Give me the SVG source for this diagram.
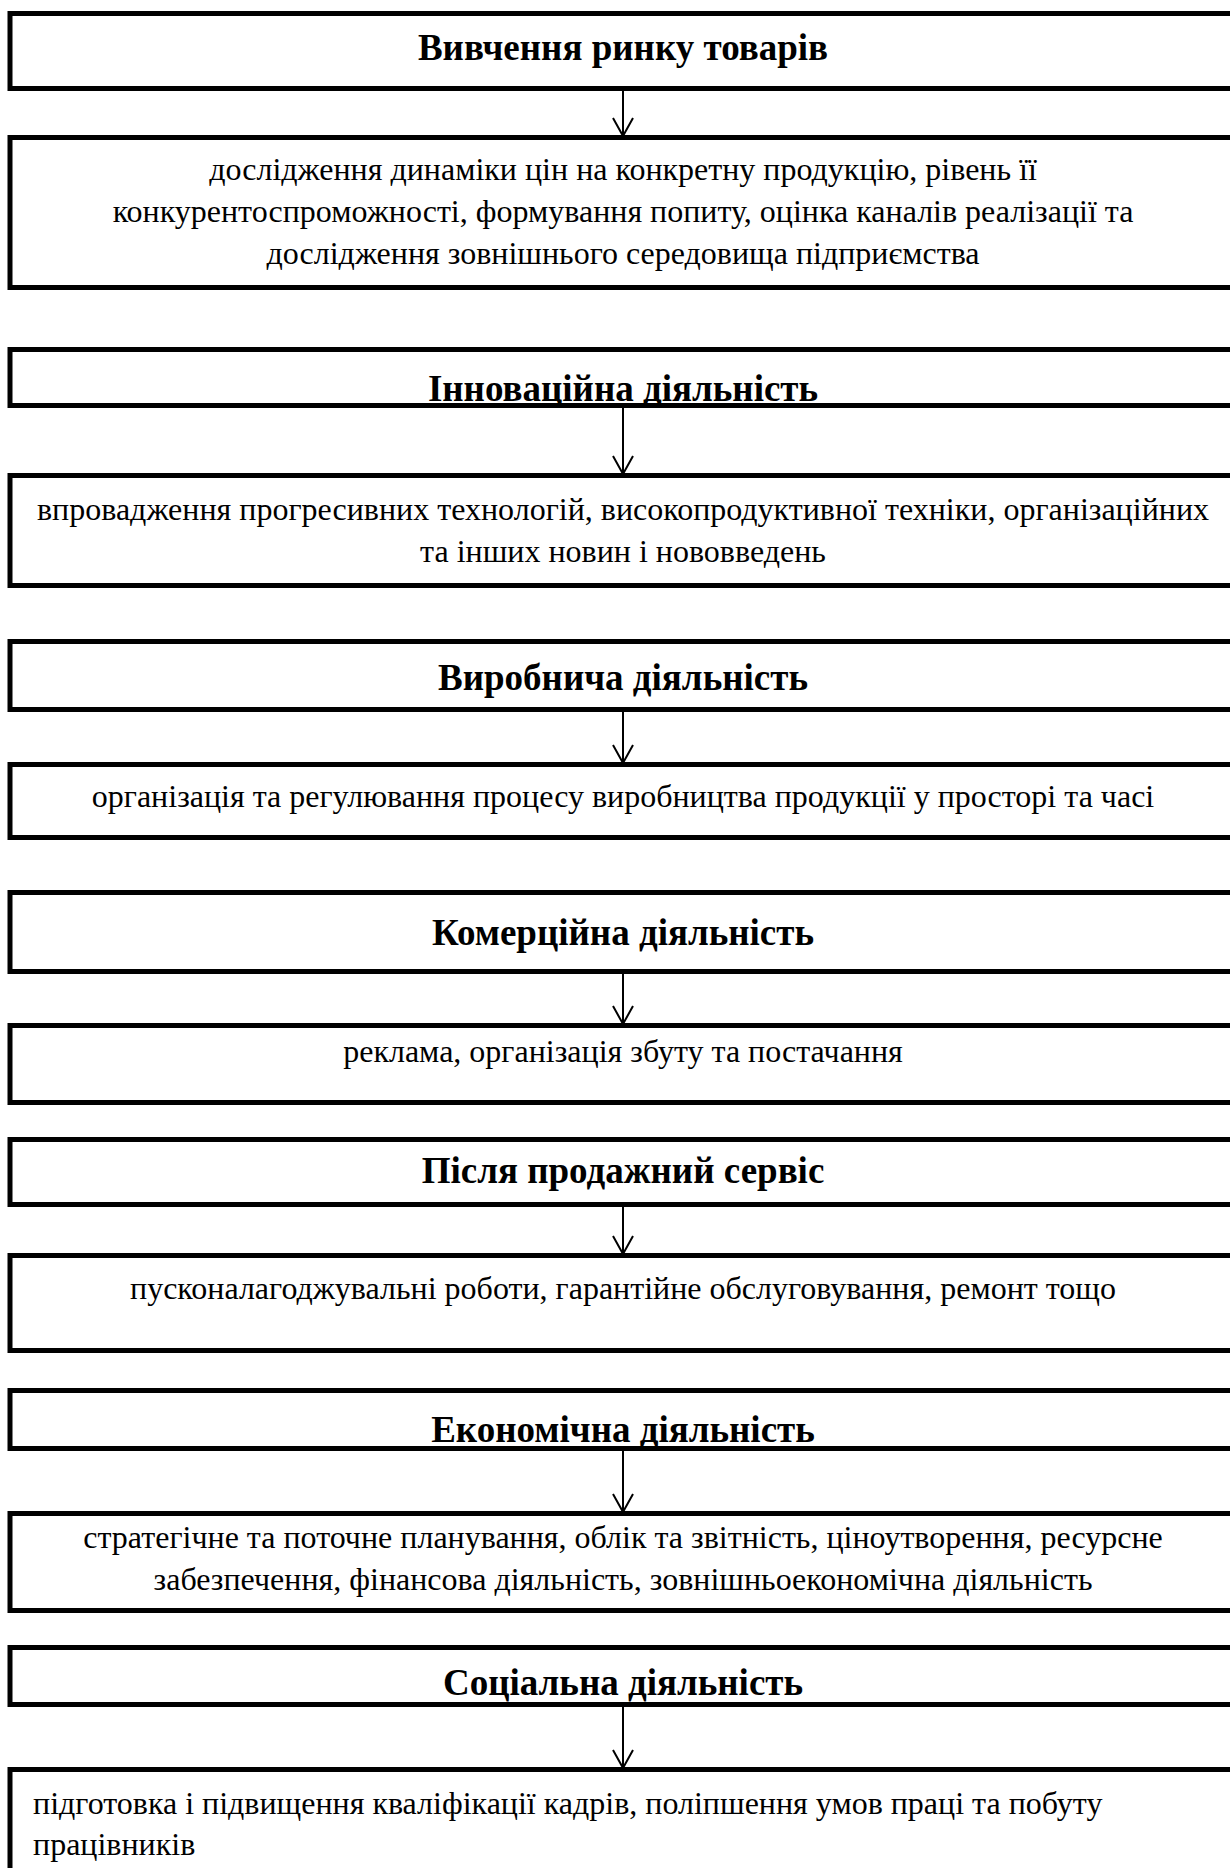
<svg xmlns="http://www.w3.org/2000/svg" width="1230" height="1868" viewBox="0 0 1230 1868">
<style>
.border{fill:none;stroke:#000;stroke-width:5}
.t{font-family:"Liberation Serif","Times New Roman",serif;font-weight:bold;font-size:37px;text-anchor:middle;fill:#000}
.d{font-family:"Liberation Serif","Times New Roman",serif;font-size:32px;text-anchor:middle;fill:#000}
.l{font-family:"Liberation Serif","Times New Roman",serif;font-size:32px;text-anchor:start;fill:#000}
.conn line{stroke:#000;stroke-width:2;marker-end:url(#arr)}
</style>
<defs>
<marker id="arr" markerUnits="userSpaceOnUse" viewBox="0 0 22 22" markerWidth="22" markerHeight="22" refX="20" refY="11" orient="auto">
<path d="M2,1 L20,11 L2,21" fill="none" stroke="#000" stroke-width="2"/>
</marker>
<clipPath id="c2"><rect x="0" y="347" width="1230" height="61"/></clipPath>
<clipPath id="c6"><rect x="0" y="1388" width="1230" height="63"/></clipPath>
<clipPath id="c7"><rect x="0" y="1645" width="1230" height="62"/></clipPath>
</defs>
<rect width="1230" height="1868" fill="#fff"/>
<g id="connectors" class="conn">
<line x1="623" y1="91" x2="623" y2="136"/>
<line x1="623" y1="408" x2="623" y2="474"/>
<line x1="623" y1="712" x2="623" y2="763"/>
<line x1="623" y1="974" x2="623" y2="1024"/>
<line x1="623" y1="1207" x2="623" y2="1254"/>
<line x1="623" y1="1451" x2="623" y2="1512"/>
<line x1="623" y1="1707" x2="623" y2="1768"/>
</g>
<g id="n1">
<text class="t" x="623" y="60">Вивчення ринку товарів</text>
<rect class="border" x="10" y="13.5" width="1240" height="75"/>
</g>
<g id="n1d">
<text class="d" x="623" y="180">дослідження динаміки цін на конкретну продукцію, рівень її</text>
<text class="d" x="623" y="222">конкурентоспроможності, формування попиту, оцінка каналів реалізації та</text>
<text class="d" x="623" y="264">дослідження зовнішнього середовища підприємства</text>
<rect class="border" x="10" y="137.5" width="1240" height="150"/>
</g>
<g id="n2">
<text class="t" x="623" y="401" clip-path="url(#c2)">Інноваційна діяльність</text>
<rect class="border" x="10" y="349.5" width="1240" height="56"/>
</g>
<g id="n2d">
<text class="d" x="623" y="520">впровадження прогресивних технологій, високопродуктивної техніки, організаційних</text>
<text class="d" x="623" y="562">та інших новин і нововведень</text>
<rect class="border" x="10" y="475.5" width="1240" height="110"/>
</g>
<g id="n3">
<text class="t" x="623" y="690">Виробнича діяльність</text>
<rect class="border" x="10" y="641.5" width="1240" height="68"/>
</g>
<g id="n3d">
<text class="d" x="623" y="807">організація та регулювання процесу виробництва продукції у просторі та часі</text>
<rect class="border" x="10" y="764.5" width="1240" height="73"/>
</g>
<g id="n4">
<text class="t" x="623" y="945">Комерційна діяльність</text>
<rect class="border" x="10" y="892.5" width="1240" height="79"/>
</g>
<g id="n4d">
<text class="d" x="623" y="1062">реклама, організація збуту та постачання</text>
<rect class="border" x="10" y="1025.5" width="1240" height="77"/>
</g>
<g id="n5">
<text class="t" x="623" y="1183">Після продажний сервіс</text>
<rect class="border" x="10" y="1139.5" width="1240" height="65"/>
</g>
<g id="n5d">
<text class="d" x="623" y="1299">пусконалагоджувальні роботи, гарантійне обслуговування, ремонт тощо</text>
<rect class="border" x="10" y="1255.5" width="1240" height="95"/>
</g>
<g id="n6">
<text class="t" x="623" y="1442" clip-path="url(#c6)">Економічна діяльність</text>
<rect class="border" x="10" y="1390.5" width="1240" height="58"/>
</g>
<g id="n6d">
<text class="d" x="623" y="1548">стратегічне та поточне планування, облік та звітність, ціноутворення, ресурсне</text>
<text class="d" x="623" y="1590">забезпечення, фінансова діяльність, зовнішньоекономічна діяльність</text>
<rect class="border" x="10" y="1513.5" width="1240" height="97"/>
</g>
<g id="n7">
<text class="t" x="623" y="1695" clip-path="url(#c7)">Соціальна діяльність</text>
<rect class="border" x="10" y="1647.5" width="1240" height="57"/>
</g>
<g id="n7d">
<text class="l" x="33" y="1814">підготовка і підвищення кваліфікації кадрів, поліпшення умов праці та побуту</text>
<text class="l" x="33" y="1855">працівників</text>
<rect class="border" x="10" y="1769.5" width="1240" height="200"/>
</g>
</svg>
